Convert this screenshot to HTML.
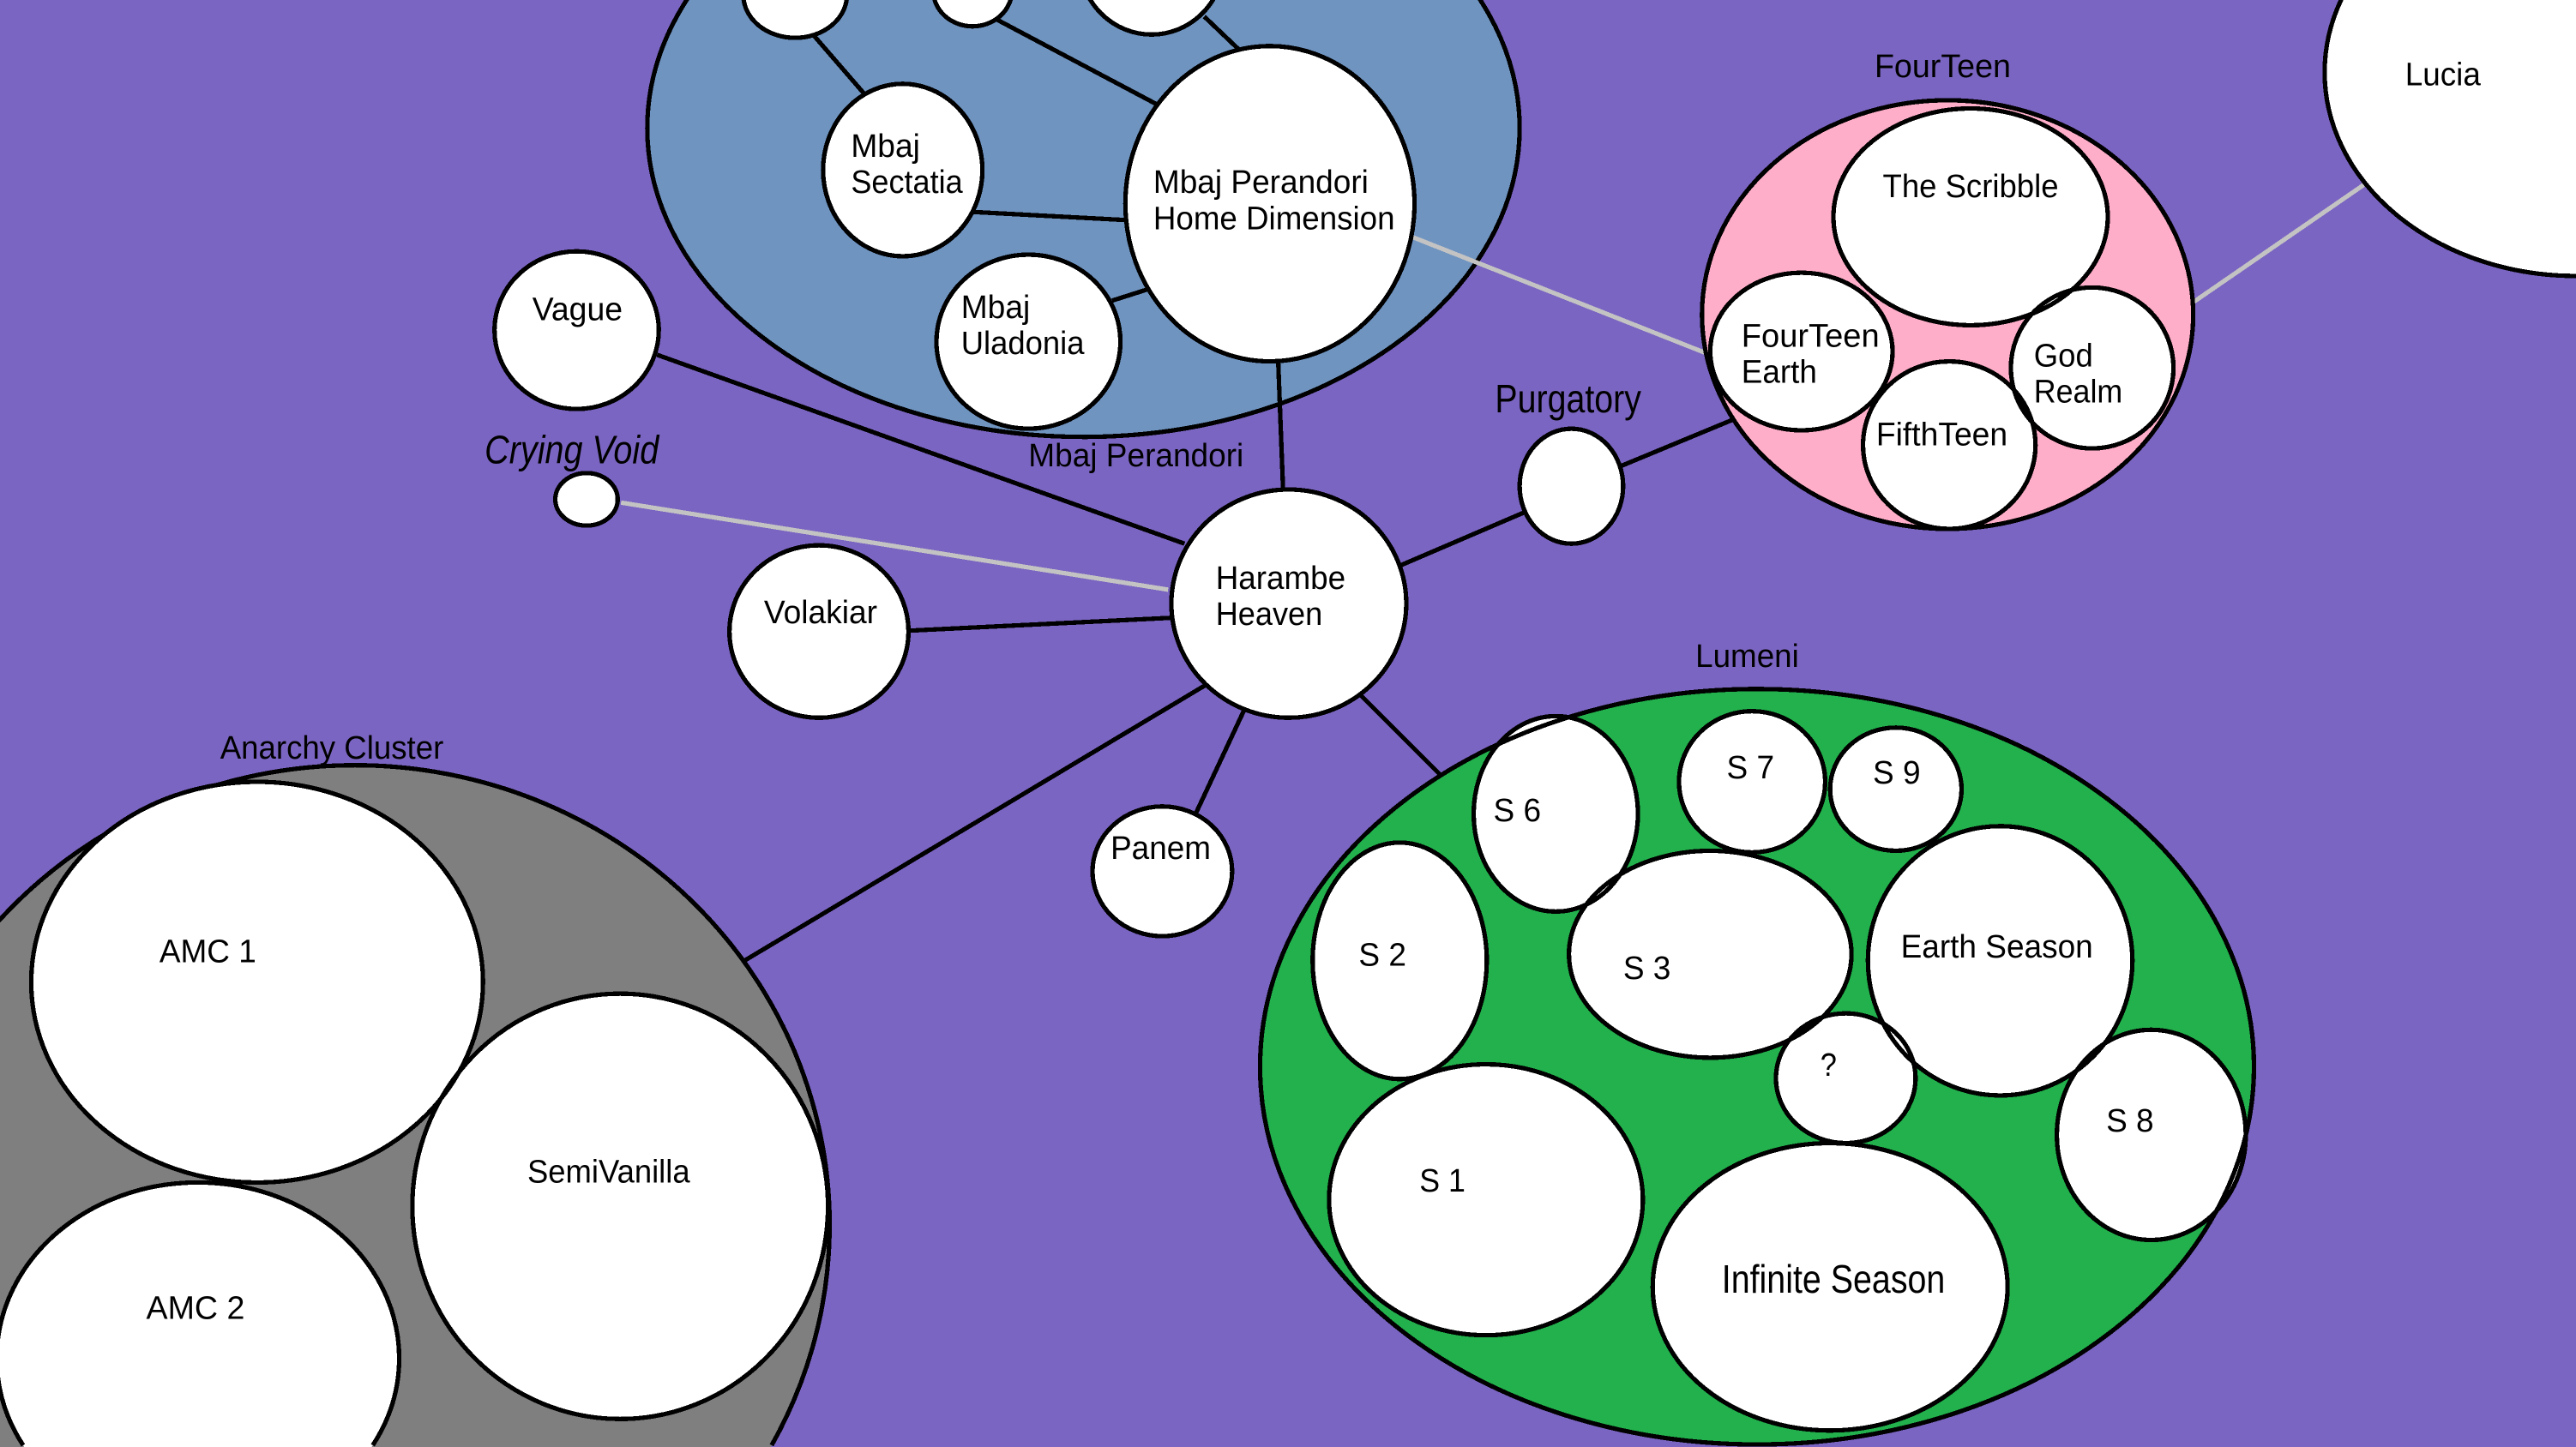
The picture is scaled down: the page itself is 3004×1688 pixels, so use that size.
<!DOCTYPE html>
<html lang="en">
<head>
<meta charset="utf-8">
<title>Cosmology diagram</title>
<style>
html,body{margin:0;padding:0;width:3004px;height:1688px;overflow:hidden;background:#7b65c2}
svg{display:block;position:absolute;left:0;top:0}
text{font-family:"Liberation Sans",Arial,sans-serif;font-size:20px;fill:#000}
ellipse,line,path{shape-rendering:crispEdges}
.n{fill:#fff;stroke:#000;stroke-width:2.7}
.s{fill:none;stroke:#000;stroke-width:2.7}
.k{stroke:#000;stroke-width:2.7;fill:none}
.g{stroke:#c3c3c3;stroke-width:2.7;fill:none}
.b{font-size:24px}
</style>
</head>
<body>
<svg width="3004" height="1688" viewBox="0 0 1568 881" xmlns="http://www.w3.org/2000/svg">
<rect x="0" y="0" width="1568" height="881" fill="#7b65c2"/>

<!-- Mbaj Perandori cluster -->
<ellipse cx="659.5" cy="78" rx="265.5" ry="188" fill="#6f94c0" stroke="#000" stroke-width="2.7"/>

<!-- connectors -->
<line class="k" x1="494" y1="20" x2="526" y2="57"/>
<line class="k" x1="607" y1="12" x2="707" y2="65"/>
<line class="k" x1="733" y1="10" x2="754" y2="30"/>
<line class="k" x1="592" y1="129" x2="686" y2="134"/>
<line class="k" x1="677" y1="183" x2="699" y2="176"/>
<line class="k" x1="778" y1="219" x2="781" y2="298"/>
<line class="k" x1="400" y1="216" x2="721" y2="331"/>
<line class="g" x1="378" y1="306" x2="711" y2="359"/>
<line class="k" x1="553" y1="384" x2="716" y2="376"/>
<line class="k" x1="853" y1="344" x2="930" y2="311"/>
<line class="k" x1="986" y1="284" x2="1056" y2="255"/>
<line class="g" x1="859" y1="144" x2="1041" y2="216"/>
<line class="g" x1="1335" y1="184" x2="1441" y2="111"/>
<line class="k" x1="826" y1="421" x2="877" y2="472"/>
<line class="k" x1="757" y1="433" x2="728" y2="495"/>
<line class="k" x1="734" y1="417" x2="453" y2="585"/>

<!-- Mbaj nodes -->
<ellipse class="n" cx="484" cy="-3" rx="31.5" ry="26"/>
<ellipse class="n" cx="592" cy="-6" rx="24" ry="22"/>
<ellipse class="n" cx="701" cy="-24" rx="44" ry="45"/>
<ellipse class="n" cx="549.5" cy="103.5" rx="48.5" ry="52.5"/>
<ellipse class="n" cx="773" cy="124" rx="88" ry="96"/>
<ellipse class="n" cx="626" cy="208" rx="56" ry="53"/>

<!-- free nodes -->
<ellipse class="n" cx="351" cy="201" rx="50" ry="48"/>
<ellipse class="n" cx="357" cy="304" rx="19" ry="16"/>
<ellipse class="n" cx="498.5" cy="384.5" rx="54.5" ry="52.5"/>
<ellipse class="n" cx="784.5" cy="367.5" rx="71.5" ry="69.5"/>
<ellipse class="n" cx="956.5" cy="296" rx="31.5" ry="35"/>
<ellipse class="n" cx="707.5" cy="530.5" rx="42.5" ry="39.5"/>
<ellipse class="n" cx="1568" cy="44" rx="153" ry="124"/>

<!-- FourTeen -->
<ellipse cx="1185.5" cy="191.5" rx="149.5" ry="130.5" fill="#ffaec9" stroke="#000" stroke-width="2.7"/>
<ellipse cx="1199.5" cy="132" rx="83.5" ry="66" fill="#fff"/>
<ellipse cx="1096.5" cy="214" rx="55.5" ry="48" fill="#fff"/>
<ellipse cx="1273.5" cy="224" rx="49.5" ry="49" fill="#fff"/>
<ellipse cx="1186.5" cy="271" rx="52.5" ry="51" fill="#fff"/>
<ellipse class="s" cx="1199.5" cy="132" rx="83.5" ry="66"/>
<ellipse class="s" cx="1096.5" cy="214" rx="55.5" ry="48"/>
<ellipse class="s" cx="1273.5" cy="224" rx="49.5" ry="49"/>
<ellipse class="s" cx="1186.5" cy="271" rx="52.5" ry="51"/>

<!-- Lumeni -->
<ellipse cx="1069.5" cy="649.5" rx="302.5" ry="230" fill="#22b14c"/>
<ellipse cx="947" cy="495.5" rx="50" ry="59.5" fill="#fff"/>
<ellipse cx="1066.5" cy="476" rx="44.5" ry="43" fill="#fff"/>
<ellipse cx="1154" cy="480.5" rx="40" ry="37.5" fill="#fff"/>
<ellipse cx="852" cy="585" rx="53" ry="72" fill="#fff"/>
<ellipse cx="1041" cy="581" rx="86" ry="63" fill="#fff"/>
<ellipse cx="1217.5" cy="585" rx="80.5" ry="82" fill="#fff"/>
<ellipse cx="1123.5" cy="656.5" rx="42.5" ry="39.5" fill="#fff"/>
<ellipse cx="1309.5" cy="691" rx="57.5" ry="64" fill="#fff"/>
<ellipse cx="904.5" cy="730.5" rx="95.5" ry="82.5" fill="#fff"/>
<ellipse cx="1114" cy="783.5" rx="108" ry="87.5" fill="#fff"/>
<ellipse class="s" cx="1069.5" cy="649.5" rx="302.5" ry="230"/>
<ellipse class="s" cx="947" cy="495.5" rx="50" ry="59.5"/>
<ellipse class="s" cx="1066.5" cy="476" rx="44.5" ry="43"/>
<ellipse class="s" cx="1154" cy="480.5" rx="40" ry="37.5"/>
<ellipse class="s" cx="852" cy="585" rx="53" ry="72"/>
<ellipse class="s" cx="1041" cy="581" rx="86" ry="63"/>
<ellipse class="s" cx="1217.5" cy="585" rx="80.5" ry="82"/>
<ellipse class="s" cx="1123.5" cy="656.5" rx="42.5" ry="39.5"/>
<ellipse class="s" cx="1309.5" cy="691" rx="57.5" ry="64"/>
<ellipse class="s" cx="904.5" cy="730.5" rx="95.5" ry="82.5"/>
<ellipse class="s" cx="1114" cy="783.5" rx="108" ry="87.5"/>

<!-- Anarchy Cluster: outer ring sits under its children -->
<path d="M469.2 881 A289 280 0 1 0 -37.2 881 Z" fill="#7f7f7f"/>
<path class="s" d="M469.7 880 A289 280 0 1 0 -37.7 880"/>
<ellipse cx="156.5" cy="598" rx="137.5" ry="122" fill="#fff"/>
<ellipse cx="377.5" cy="734.5" rx="126.5" ry="129.5" fill="#fff"/>
<path d="M226.3 881 A122.5 107 0 1 0 14.7 881 Z" fill="#fff"/>
<ellipse class="s" cx="156.5" cy="598" rx="137.5" ry="122"/>
<ellipse class="s" cx="377.5" cy="734.5" rx="126.5" ry="129.5"/>
<path class="s" d="M226.9 880 A122.5 107 0 1 0 14.1 880"/>

<!-- labels -->
<text x="518" y="95.5" textLength="42" lengthAdjust="spacingAndGlyphs">Mbaj</text>
<text x="518" y="117.5" textLength="68" lengthAdjust="spacingAndGlyphs">Sectatia</text>
<text x="702" y="117.5" textLength="131" lengthAdjust="spacingAndGlyphs">Mbaj Perandori</text>
<text x="702" y="139.5" textLength="147" lengthAdjust="spacingAndGlyphs">Home Dimension</text>
<text x="585" y="193.5" textLength="42" lengthAdjust="spacingAndGlyphs">Mbaj</text>
<text x="585" y="215.5" textLength="75" lengthAdjust="spacingAndGlyphs">Uladonia</text>
<text x="324" y="195" textLength="55" lengthAdjust="spacingAndGlyphs">Vague</text>
<text class="b" x="295" y="282" textLength="106" lengthAdjust="spacingAndGlyphs" font-style="italic">Crying Void</text>
<text x="626" y="284" textLength="131" lengthAdjust="spacingAndGlyphs">Mbaj Perandori</text>
<text x="465" y="379.5" textLength="69" lengthAdjust="spacingAndGlyphs">Volakiar</text>
<text x="740" y="358.5" textLength="79" lengthAdjust="spacingAndGlyphs">Harambe</text>
<text x="740" y="380.5" textLength="65" lengthAdjust="spacingAndGlyphs">Heaven</text>
<text class="b" x="910" y="251" textLength="89" lengthAdjust="spacingAndGlyphs">Purgatory</text>
<text x="676" y="523" textLength="61" lengthAdjust="spacingAndGlyphs">Panem</text>
<text x="1141" y="47" textLength="83" lengthAdjust="spacingAndGlyphs">FourTeen</text>
<text x="1146" y="120" textLength="107" lengthAdjust="spacingAndGlyphs">The Scribble</text>
<text x="1060" y="211" textLength="84" lengthAdjust="spacingAndGlyphs">FourTeen</text>
<text x="1060" y="233" textLength="46" lengthAdjust="spacingAndGlyphs">Earth</text>
<text x="1238" y="223" textLength="36" lengthAdjust="spacingAndGlyphs">God</text>
<text x="1238" y="245" textLength="54" lengthAdjust="spacingAndGlyphs">Realm</text>
<text x="1142" y="271" textLength="80" lengthAdjust="spacingAndGlyphs">FifthTeen</text>
<text x="1464" y="52" textLength="46" lengthAdjust="spacingAndGlyphs">Lucia</text>
<text x="1032" y="406" textLength="63" lengthAdjust="spacingAndGlyphs">Lumeni</text>
<text x="909" y="500" textLength="29" lengthAdjust="spacingAndGlyphs">S 6</text>
<text x="1051" y="474" textLength="29" lengthAdjust="spacingAndGlyphs">S 7</text>
<text x="1140" y="477" textLength="29" lengthAdjust="spacingAndGlyphs">S 9</text>
<text x="827" y="588" textLength="29" lengthAdjust="spacingAndGlyphs">S 2</text>
<text x="988" y="596" textLength="29" lengthAdjust="spacingAndGlyphs">S 3</text>
<text x="1157" y="583" textLength="117" lengthAdjust="spacingAndGlyphs">Earth Season</text>
<text x="1108" y="655" textLength="10" lengthAdjust="spacingAndGlyphs">?</text>
<text x="1282" y="689" textLength="29" lengthAdjust="spacingAndGlyphs">S 8</text>
<text x="864" y="725.5" textLength="28" lengthAdjust="spacingAndGlyphs">S 1</text>
<text class="b" x="1048" y="787" textLength="136" lengthAdjust="spacingAndGlyphs">Infinite Season</text>
<text x="134" y="462" textLength="136" lengthAdjust="spacingAndGlyphs">Anarchy Cluster</text>
<text x="97" y="586" textLength="59" lengthAdjust="spacingAndGlyphs">AMC 1</text>
<text x="321" y="720" textLength="99" lengthAdjust="spacingAndGlyphs">SemiVanilla</text>
<text x="89" y="803" textLength="60" lengthAdjust="spacingAndGlyphs">AMC 2</text>
</svg>
</body>
</html>
